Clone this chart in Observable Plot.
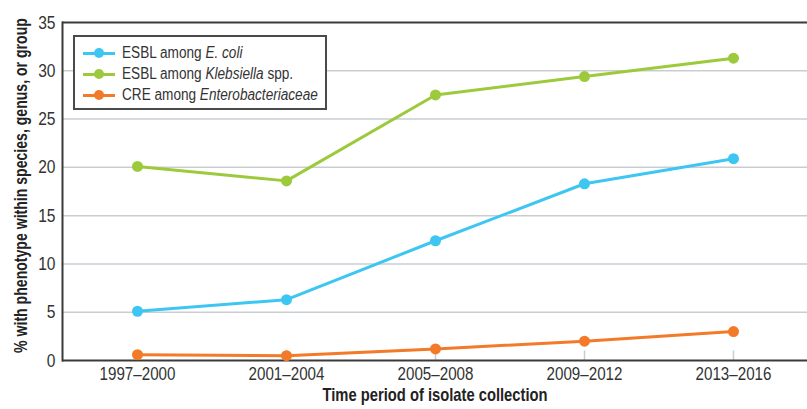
<!DOCTYPE html>
<html>
<head>
<meta charset="utf-8">
<script src="https://cdn.jsdelivr.net/npm/d3@7"></script>
<script src="https://cdn.jsdelivr.net/npm/@observablehq/plot@0.6"></script>
<style>
  html, body { margin: 0; padding: 0; background: #fff; }
  #wrap { position: relative; width: 807px; height: 409px; font-family: "Liberation Sans", Arial, sans-serif; }
  #legend { position: absolute; left: 73px; top: 35px; width: 254px; height: 75px; border: 2px solid #4a4a4a; background: #fff; box-sizing: border-box; font-size: 16px; color: #333; }
  .item { position: absolute; left: 8px; height: 20px; display: flex; align-items: center; white-space: nowrap; }
  .sw { position: relative; width: 32px; height: 20px; margin-right: 7px; flex: none; }
  .sw .ln { position: absolute; left: 0; right: 0; top: 8.5px; height: 3px; }
  .sw .dt { position: absolute; left: 11px; top: 5px; width: 10px; height: 10px; border-radius: 50%; }
  .txt { display: inline-block; transform: scaleX(0.85); transform-origin: left center; }
</style>
</head>
<body>
<div id="wrap"><div id="chart"></div><div id="legend"></div></div>
<script>
const periods = ["1997–2000", "2001–2004", "2005–2008", "2009–2012", "2013–2016"];
const seriesNames = ["ESBL among E. coli", "ESBL among Klebsiella spp.", "CRE among Enterobacteriaceae"];
const ecoli = [5.1, 6.3, 12.4, 18.3, 20.9];
const klebsiella = [20.1, 18.6, 27.5, 29.4, 31.3];
const cre = [0.6, 0.5, 1.2, 2.0, 3.0];
const colors = ["#3ec6f2", "#9cca3c", "#f27a28"];
const yTicks = [0, 5, 10, 15, 20, 25, 30, 35];

const data = [];
[ecoli, klebsiella, cre].forEach((vals, i) => {
  vals.forEach((v, j) => data.push({series: seriesNames[i], period: periods[j], value: v}));
});

const font = '"Liberation Sans", Arial, sans-serif';

const chart = Plot.plot({
  width: 807,
  height: 409,
  marginLeft: 62,
  marginRight: 0,
  marginTop: 22,
  marginBottom: 49,
  style: {fontFamily: font, fontSize: "16px", color: "#333", background: "#fff"},
  x: {type: "point", domain: periods, padding: 0.5, label: null},
  y: {domain: [0, 35], label: null},
  color: {domain: seriesNames, range: colors},
  marks: [
    Plot.gridY(yTicks.filter(d => d > 0 && d < 35), {stroke: "#c9cdd2", strokeOpacity: 1, strokeWidth: 1.5}),
    Plot.ruleX(periods, {y1: 0, y2: 1, stroke: "#c9cdd2", strokeWidth: 1.5}),
    Plot.axisY(yTicks, {tickSize: 0, tickPadding: 7, fontSize: 19, label: null, fill: "#333"}),
    Plot.axisX({tickSize: 0, tickPadding: 6, fontSize: 18.5, label: null, fill: "#333"}),
    Plot.text(["% with phenotype within species, genus, or group"], {frameAnchor: "left", textAnchor: "middle", rotate: -90, dx: -41, dy: -6, fontWeight: "bold", fontSize: 17.5, fill: "#222"}),
    Plot.text(["Time period of isolate collection"], {frameAnchor: "bottom", dy: 40, fontWeight: "bold", fontSize: 18, fill: "#222"}),
    Plot.ruleY([0, 35], {stroke: "#3a3a3a", strokeWidth: 2}),
    Plot.frame({anchor: "left", stroke: "#3a3a3a", strokeWidth: 2}),
    Plot.line(data, {x: "period", y: "value", stroke: "series", strokeWidth: 3}),
    Plot.dot(data, {x: "period", y: "value", fill: "series", r: 5.5})
  ]
});
document.getElementById("chart").appendChild(chart);

// condense text along its reading direction (reference uses a narrow typeface)
const NS = "http://www.w3.org/2000/svg";
const SX = 0.82;
chart.querySelectorAll("text").forEach(t => {
  const g = document.createElementNS(NS, "g");
  t.parentNode.insertBefore(g, t);
  g.appendChild(t);
  const b = g.getBBox();
  const rotated = (t.getAttribute("transform") || "").includes("rotate");
  if (rotated) {
    const cy = b.y + b.height / 2;
    const s = 335 / b.height;
    g.setAttribute("transform", `translate(0,${cy}) scale(1,${s}) translate(0,${-cy})`);
  } else {
    const anchor = getComputedStyle(t).textAnchor;
    const cx = anchor === "end" ? b.x + b.width : anchor === "start" ? b.x : b.x + b.width / 2;
    g.setAttribute("transform", `translate(${cx},0) scale(${SX},1) translate(${-cx},0)`);
  }
});

const legendHtml = [
  'ESBL among <i>E. coli</i>',
  'ESBL among <i>Klebsiella</i> spp.',
  'CRE among <i>Enterobacteriaceae</i>'
];
const legend = document.getElementById("legend");
legendHtml.forEach((h, i) => {
  const it = document.createElement("div");
  it.className = "item";
  it.style.top = (6 + i * 21) + "px";
  it.innerHTML = `<div class="sw"><div class="ln" style="background:${colors[i]}"></div><div class="dt" style="background:${colors[i]}"></div></div><span class="txt">${h}</span>`;
  legend.appendChild(it);
});
</script>
</body>
</html>
